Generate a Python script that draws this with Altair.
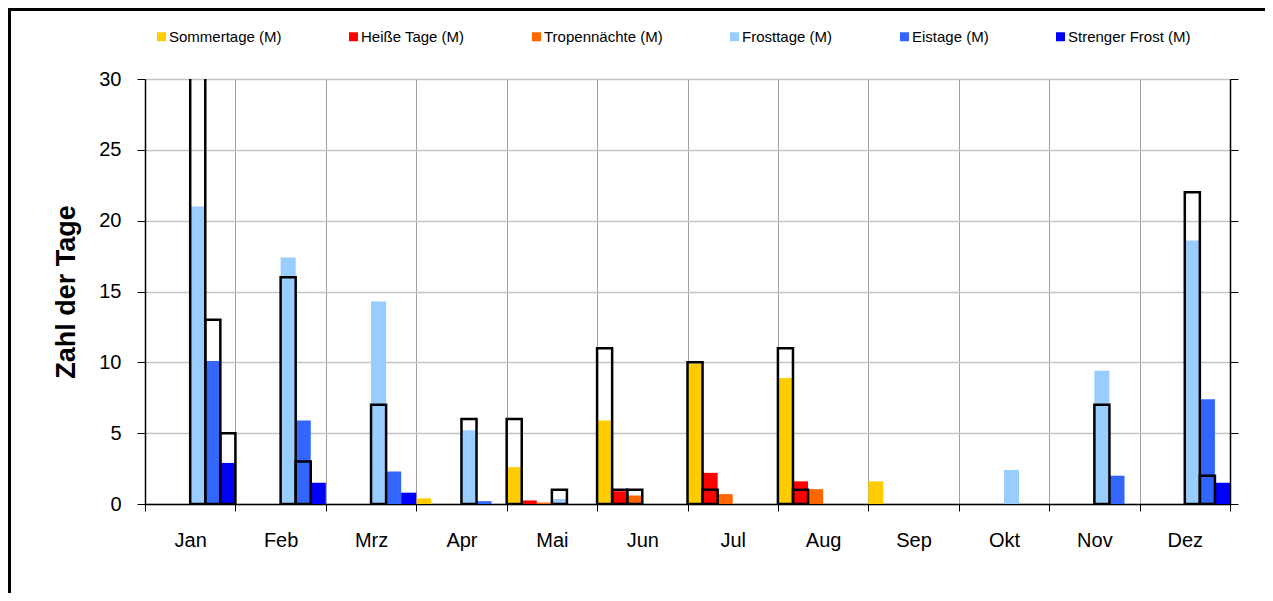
import altair as alt
import pandas as pd

months = ["Jan", "Feb", "Mrz", "Apr", "Mai", "Jun", "Jul", "Aug", "Sep", "Okt", "Nov", "Dez"]
series = ["Sommertage (M)", "Heiße Tage (M)", "Tropennächte (M)",
          "Frosttage (M)", "Eistage (M)", "Strenger Frost (M)"]
colors = ["#FFCC00", "#FF0000", "#FF6600", "#99CCFF", "#3366FF", "#0000FF"]

# mean values (filled bars)
sommertage_m = [0, 0, 0, 0.4, 2.6, 5.9, 9.9, 8.9, 1.6, 0, 0, 0]
heisse_m = [0, 0, 0, 0, 0.25, 0.9, 2.2, 1.6, 0, 0, 0, 0]
tropen_m = [0, 0, 0, 0, 0.1, 0.6, 0.7, 1.05, 0, 0, 0, 0]
frost_m = [21.0, 17.4, 14.3, 5.2, 0.35, 0, 0, 0, 0, 2.4, 9.4, 18.6]
eis_m = [10.1, 5.9, 2.3, 0.2, 0, 0, 0, 0, 0, 0, 2.0, 7.4]
streng_m = [2.9, 1.5, 0.8, 0, 0, 0, 0, 0, 0, 0, 0, 1.5]

# values of the year (outlined bars)
sommertage_y = [0, 0, 0, 0, 6, 11, 10, 11, 0, 0, 0, 0]
heisse_y = [0, 0, 0, 0, 0, 1, 1, 1, 0, 0, 0, 0]
tropen_y = [0, 0, 0, 0, 0, 1, 0, 0, 0, 0, 0, 0]
frost_y = [31, 16, 7, 6, 1, 0, 0, 0, 0, 0, 7, 22]
eis_y = [13, 3, 0, 0, 0, 0, 0, 0, 0, 0, 0, 2]
streng_y = [5, 0, 0, 0, 0, 0, 0, 0, 0, 0, 0, 0]

mean_lists = [sommertage_m, heisse_m, tropen_m, frost_m, eis_m, streng_m]
year_lists = [sommertage_y, heisse_y, tropen_y, frost_y, eis_y, streng_y]

rows = []
for s, ml, yl in zip(series, mean_lists, year_lists):
    for i, m in enumerate(months):
        rows.append({"month": m, "series": s, "M": ml[i], "Y": yl[i]})
df = pd.DataFrame(rows)

FONT = "Liberation Sans"

x_enc = alt.X(
    "month:N", sort=months,
    scale=alt.Scale(paddingInner=0, paddingOuter=0),
    axis=alt.Axis(title=None, labelAngle=0, tickBand="extent", grid=True,
                  gridColor="#A0A0A0", gridWidth=1, tickSize=7, tickColor="black",
                  domainColor="black", domainWidth=1.5, labelFontSize=20,
                  labelPadding=19, labelColor="black", labelFont=FONT),
)
xo_enc = alt.XOffset("series:N", sort=series,
                     scale=alt.Scale(paddingInner=0, paddingOuter=0))

base = alt.Chart(df)

bars = base.mark_bar().encode(
    x=x_enc,
    xOffset=xo_enc,
    y=alt.Y("M:Q", scale=alt.Scale(domain=[0, 30]),
            axis=alt.Axis(values=[0, 5, 10, 15, 20, 25, 30], title="Zahl der Tage",
                          titleFontSize=27, titleFontWeight="bold", titlePadding=18,
                          titleColor="black", titleFont=FONT,
                          labelFontSize=20, labelPadding=16, labelColor="black",
                          labelFont=FONT, tickSize=8, tickColor="black",
                          domainColor="black", domainWidth=1.5,
                          gridColor="#C4C4C4", gridWidth=1.5)),
    color=alt.Color("series:N", sort=series,
                    scale=alt.Scale(domain=series, range=colors),
                    legend=alt.Legend(orient="none", legendX=9, legendY=-50,
                                      direction="horizontal", columns=6, title=None,
                                      symbolType="square", symbolSize=81,
                                      symbolStrokeWidth=0, labelFontSize=15,
                                      labelOffset=0, columnPadding=64,
                                      labelColor="black", labelFont=FONT,
                                      labelLimit=300)),
)

outline = base.transform_filter("datum.Y > 0").mark_bar(
    fillOpacity=0, stroke="black", strokeWidth=2.5, clip=True
).encode(
    x=x_enc,
    xOffset=xo_enc,
    y=alt.Y("Y:Q", scale=alt.Scale(domain=[0, 30]),
            axis=alt.Axis(orient="right", values=[0, 5, 10, 15, 20, 25, 30],
                          labels=False, title=None, grid=False, tickSize=8,
                          tickColor="black", domainColor="black", domainWidth=1.5)),
)

frame_df = pd.DataFrame({"k": [0]})
left_border = alt.Chart(frame_df).mark_rule(color="black", strokeWidth=3).encode(
    x=alt.value(-135.5), y=alt.value(-71), y2=alt.value(514)
)
top_border = alt.Chart(frame_df).mark_rule(color="black", strokeWidth=3).encode(
    x=alt.value(-137), x2=alt.value(1120), y=alt.value(-69.5)
)

chart = alt.layer(bars, outline, left_border, top_border).resolve_axis(
    y="independent"
).properties(
    width=1085, height=425,
    padding={"left": 137, "top": 71, "right": 35, "bottom": 89},
    autosize=alt.AutoSizeParams(type="none"),
).configure_view(strokeWidth=0).configure(font=FONT, background="white")

chart.save("out.html", embed_options={"renderer": "svg", "actions": False})
